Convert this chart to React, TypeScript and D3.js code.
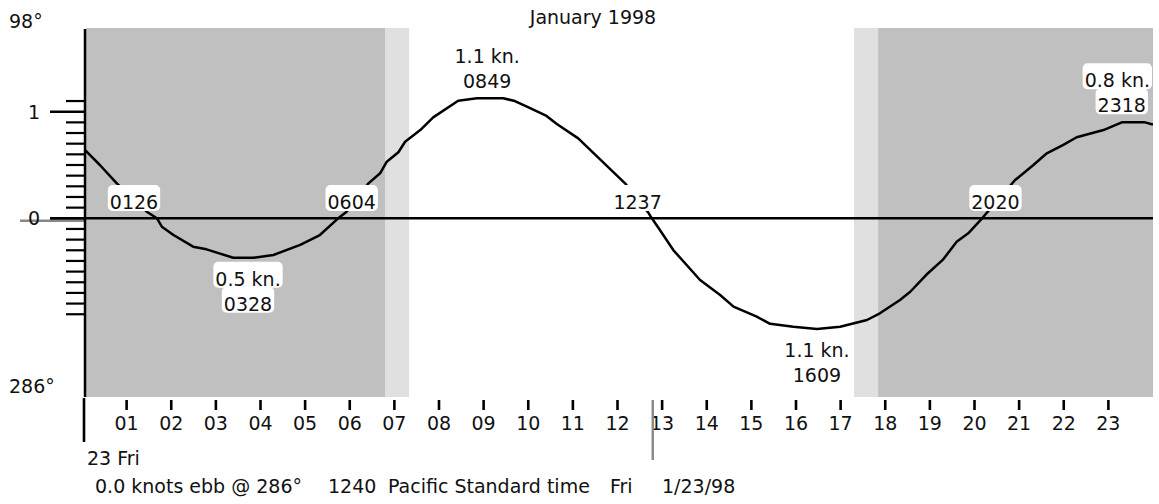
import React, { useEffect, useRef } from 'react';
import * as d3 from 'd3';

// tidal current, hours after midnight vs knots (flood +, ebb -)
const tideHours = [0.07, 0.4, 0.78, 1.45, 1.68, 1.79, 2.05, 2.49, 2.79, 3.39, 3.84, 4.29, 4.89, 5.33, 5.74, 5.93, 6.42, 6.68, 6.83, 7.09, 7.24, 7.58, 7.87, 8.43, 8.85, 9.44, 9.7, 9.97, 10.41, 10.64, 11.12, 12.17, 12.69, 12.77, 12.95, 13.25, 13.85, 14.3, 14.6, 15.12, 15.42, 15.94, 16.47, 16.99, 17.59, 17.88, 18.33, 18.56, 18.92, 19.3, 19.6, 19.86, 20.17, 20.91, 21.32, 21.62, 21.99, 22.29, 22.89, 23.3, 23.82, 24.0];
const tideKnots = [0.64, 0.5, 0.328, 0.062, 0, -0.079, -0.157, -0.266, -0.291, -0.37, -0.37, -0.344, -0.25, -0.157, 0, 0.062, 0.328, 0.422, 0.531, 0.62, 0.718, 0.828, 0.947, 1.103, 1.126, 1.126, 1.1, 1.047, 0.96, 0.885, 0.75, 0.328, 0.053, 0, -0.11, -0.298, -0.579, -0.72, -0.829, -0.923, -0.99, -1.017, -1.038, -1.017, -0.954, -0.891, -0.767, -0.689, -0.53, -0.385, -0.22, -0.141, 0, 0.359, 0.5, 0.61, 0.688, 0.76, 0.828, 0.9, 0.9, 0.88];

// night / twilight shading
const shadeFrom = [0, 6.79, 17.3, 17.84];
const shadeTo = [6.79, 7.33, 17.84, 24];
const shadeFill = ['#c0c0c0', '#e0e0e0', '#e0e0e0', '#c0c0c0'];

// events
const eventTimes = ['0126', '0328', '0604', '0849', '1237', '1609', '2020', '2318'];
const eventKinds = ['slack', 'ebb', 'slack', 'flood', 'slack', 'ebb', 'slack', 'flood'];
const eventSpeeds = ['', '0.5 kn.', '', '1.1 kn.', '', '1.1 kn.', '', '0.8 kn.'];
const labelHours = [1.165, 3.72, 6.044, 9.08, 12.45, 16.47, 20.47, 23.3];

const hourTicks = [1, 2, 3, 4, 5, 6, 7, 8, 9, 10, 11, 12, 13, 14, 15, 16, 17, 18, 19, 20, 21, 22, 23];
const hourLabels = ['01', '02', '03', '04', '05', '06', '07', '08', '09', '10', '11', '12', '13', '14', '15', '16', '17', '18', '19', '20', '21', '22', '23'];
const majorKnots = [1, 0];
const minorKnots = [1.1, 0.9, 0.8, 0.7, 0.6, 0.5, 0.4, 0.3, 0.2, 0.1, -0.1, -0.2, -0.3, -0.4, -0.5, -0.6, -0.7, -0.8, -0.9];

const nowMarkerHour = 12.79;
const currentKnots = 0.0;
const footer = ['0.0 knots ebb @ 286°', '1240', 'Pacific Standard time', 'Fri', '1/23/98'];

const W = 1159;
const H = 504;
const FONT = "'DejaVu Sans', Verdana, sans-serif";

const App: React.FC = () => {
  const svgRef = useRef<SVGSVGElement>(null);

  useEffect(() => {
    if (!svgRef.current) return;
    const svg = d3.select(svgRef.current);
    svg.selectAll('*').remove();

    const plotL = 86, plotR = 1153, plotT = 28, plotB = 397;
    const x = d3.scaleLinear().domain([0, 24]).range([82, 1153]);
    const y = d3.scaleLinear().domain([-1, 1]).range([324.9, 111.7]);

    svg.append('defs').append('clipPath').attr('id', 'plotclip')
      .append('rect').attr('x', plotL).attr('y', plotT)
      .attr('width', plotR - plotL).attr('height', plotB - plotT);

    const plot = svg.append('g').attr('clip-path', 'url(#plotclip)');
    plot.selectAll('rect.shade')
      .data(shadeFrom)
      .join('rect')
      .attr('class', 'shade')
      .attr('x', (d) => x(d))
      .attr('width', (d, i) => x(shadeTo[i]) - x(d))
      .attr('y', plotT)
      .attr('height', plotB - plotT)
      .attr('fill', (d, i) => shadeFill[i]);

    // current speed marker on the axis
    svg.append('line')
      .attr('x1', 20).attr('x2', 84)
      .attr('y1', y(currentKnots) + 2.4).attr('y2', y(currentKnots) + 2.4)
      .attr('stroke', '#888').attr('stroke-width', 2.6);

    svg.append('line')
      .attr('x1', 50).attr('x2', plotR)
      .attr('y1', y(0)).attr('y2', y(0))
      .attr('stroke', '#000').attr('stroke-width', 2.5);

    const line = d3.line<number>()
      .x((d, i) => x(tideHours[i]))
      .y((d) => y(d));

    plot.append('path')
      .attr('d', line(tideKnots) || '')
      .attr('fill', 'none')
      .attr('stroke', '#000')
      .attr('stroke-width', 2.5)
      .attr('stroke-linejoin', 'round');

    // event labels with white boxes
    const labelLayer = svg.append('g').attr('font-family', FONT).attr('font-size', 19).attr('fill', '#111');
    const addLabel = (txt: string, cx: number, base: number) => {
      const g = labelLayer.append('g');
      const rect = g.append('rect').attr('fill', '#fff').attr('rx', 5);
      const t = g.append('text').attr('y', base).text(txt);
      const w = (t.node() as SVGTextElement).getComputedTextLength();
      let left = cx - w / 2;
      if (left + w > plotR - 3) left = plotR - 3 - w;
      t.attr('x', left);
      rect.attr('x', left - 2).attr('y', base - 24).attr('width', w + 4).attr('height', 26);
    };

    eventTimes.forEach((time, i) => {
      const h = labelHours[i];
      const cx = x(h);
      const near = tideKnots.filter((k, j) => Math.abs(tideHours[j] - h) < 1.5);
      if (eventKinds[i] === 'slack') {
        addLabel(time, cx, y(0) - 9.3);
      } else if (eventKinds[i] === 'flood') {
        const base = y(d3.max(near) ?? 0) - 10;
        addLabel(eventSpeeds[i], cx, base - 25);
        addLabel(time, cx, base);
      } else {
        const base = y(d3.min(near) ?? 0) + 28;
        addLabel(eventSpeeds[i], cx, base);
        addLabel(time, cx, base + 25);
      }
    });

    // y axis
    svg.append('line')
      .attr('x1', 85).attr('x2', 85).attr('y1', 29).attr('y2', plotB)
      .attr('stroke', '#000').attr('stroke-width', 2.5);
    svg.selectAll('line.minor')
      .data(minorKnots)
      .join('line')
      .attr('class', 'minor')
      .attr('x1', 66).attr('x2', 85)
      .attr('y1', (d) => y(d)).attr('y2', (d) => y(d))
      .attr('stroke', '#000').attr('stroke-width', 2.2);
    svg.selectAll('line.major')
      .data(majorKnots)
      .join('line')
      .attr('class', 'major')
      .attr('x1', 50).attr('x2', 85)
      .attr('y1', (d) => y(d)).attr('y2', (d) => y(d))
      .attr('stroke', '#000').attr('stroke-width', 2.5);

    const txt = svg.append('g').attr('font-family', FONT).attr('font-size', 19).attr('fill', '#111');
    txt.append('text').attr('x', 9).attr('y', 28).text('98°');
    txt.append('text').attr('x', 9).attr('y', 393).text('286°');
    txt.selectAll('text.ylab')
      .data(majorKnots)
      .join('text')
      .attr('class', 'ylab')
      .attr('x', 34)
      .attr('y', (d) => y(d) + 7)
      .attr('text-anchor', 'middle')
      .text((d) => String(d));

    txt.append('text').attr('x', 593).attr('y', 24).attr('text-anchor', 'middle').text('January 1998');

    // x axis
    svg.selectAll('line.htick')
      .data(hourTicks)
      .join('line')
      .attr('class', 'htick')
      .attr('x1', (d) => x(d)).attr('x2', (d) => x(d))
      .attr('y1', 400).attr('y2', 410)
      .attr('stroke', '#000').attr('stroke-width', 2.6);
    txt.selectAll('text.hlab')
      .data(hourTicks)
      .join('text')
      .attr('class', 'hlab')
      .attr('x', (d) => x(d))
      .attr('y', 430)
      .attr('text-anchor', 'middle')
      .text((d, i) => hourLabels[i]);

    svg.append('line')
      .attr('x1', 84).attr('x2', 84).attr('y1', 398).attr('y2', 442)
      .attr('stroke', '#000').attr('stroke-width', 2.6);
    txt.append('text').attr('x', 87).attr('y', 465).text('23 Fri');

    svg.append('line')
      .attr('x1', x(nowMarkerHour)).attr('x2', x(nowMarkerHour))
      .attr('y1', 400).attr('y2', 460)
      .attr('stroke', '#888').attr('stroke-width', 2.4);

    const footX = [95, 328, 388, 610, 662];
    const ft = txt.append('text').attr('y', 493);
    footer.forEach((s, i) => {
      ft.append('tspan').attr('x', footX[i]).text(s);
    });
  }, []);

  return (
    <div style={{ width: W, height: H, overflow: 'hidden' }}>
      <style>{'body{margin:0;background:#fff}'}</style>
      <svg ref={svgRef} width={W} height={H} style={{ display: 'block' }}></svg>
    </div>
  );
};

export default App;
